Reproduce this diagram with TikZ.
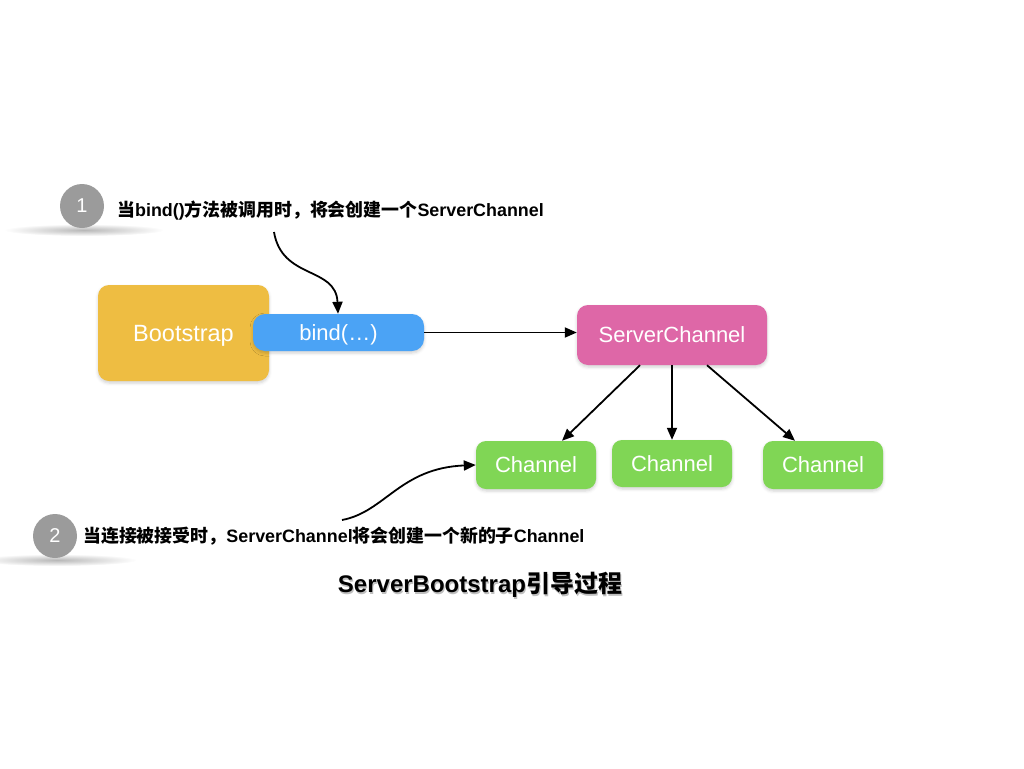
\documentclass[tikz,border=0pt]{standalone}
\usepackage{fontspec}
\setmainfont{Liberation Sans}
\newfontfamily\cjk{Noto Sans CJK SC}
\usetikzlibrary{arrows.meta,shadows.blur}
\definecolor{bootc}{HTML}{EEBD42}
\definecolor{bindc}{HTML}{4BA3F5}
\definecolor{srvc}{HTML}{DE67A7}
\definecolor{chc}{HTML}{80D655}
\definecolor{circc}{HTML}{9B9B9B}
\tikzset{
  box/.style={rounded corners=11pt, text=white, font=\fontsize{22}{24}\selectfont, inner sep=0pt,
    text height=15.8pt, text depth=0pt,
    blur shadow={shadow xshift=0pt, shadow yshift=-2pt, shadow blur radius=3pt, shadow opacity=18}},
  conn/.style={line width=1.8pt, -{Triangle[length=12pt,width=10pt]}},
  stepcirc/.style={circle, fill=circc, minimum size=44pt, inner sep=0pt, text=white, font=\fontsize{20}{22}\selectfont},
  note/.style={anchor=west, inner sep=0pt, font=\fontsize{17.9}{20}\selectfont\bfseries},
}
\begin{document}
\begin{tikzpicture}[x=1pt,y=-1pt]
\useasboundingbox (0,0) rectangle (1024,768);
% shadows below circles
\shade[inner color=black!28, outer color=white] (84,230) ellipse [x radius=80, y radius=6];
\shade[inner color=black!28, outer color=white] (57,560) ellipse [x radius=80, y radius=6];
\node[stepcirc] (c1) at (82,206) {1};
\node[stepcirc] (c2) at (55,536) {2};
\node[note] (t1) at (117,211) {{\cjk 当}bind(){\cjk 方法被调用时，将会创建一个}ServerChannel};
\node[note] (t2) at (83,536) {{\cjk 当连接被接受时，}ServerChannel{\cjk 将会创建一个新的子}Channel};
% boxes
\node[box, fill=bootc, minimum width=171pt, minimum height=96pt, font=\fontsize{23.5}{26}\selectfont, text height=16.9pt] (boot) at (183.5,333) {Bootstrap};
\node[box, fill=bindc, minimum width=171pt, minimum height=37pt, rounded corners=12pt] (bind) at (338.5,332.5) {bind(…)};
\node[box, fill=srvc, minimum width=190pt, minimum height=60pt] (srv) at (672,335) {ServerChannel};
\node[box, fill=chc, minimum width=120pt, minimum height=48pt, rounded corners=10pt] (ch1) at (536,465) {Channel};
\node[box, fill=chc, minimum width=120pt, minimum height=47pt, rounded corners=10pt] (ch2) at (672,463.5) {Channel};
\node[box, fill=chc, minimum width=120pt, minimum height=48pt, rounded corners=10pt] (ch3) at (823,465) {Channel};
% connectors
\coordinate (a1) at (274,232);
\coordinate (a2) at (342,520);
\draw[conn] (a1) .. controls (282,280) and (336,266) .. (bind.north -| 338,0);
\draw[conn] (a2) .. controls (385,512) and (400,468) .. (ch1.west);
\draw[conn] (bind.east) -- (srv.west |- bind.east);
\draw[conn] (srv.south -| 640,0) -- (ch1.north -| 562,0);
\draw[conn] (srv.south) -- (ch2.north);
\draw[conn] (srv.south -| 707,0) -- (ch3.north -| 795,0);
% title
\node[text=black!25, font=\fontsize{24}{28}\selectfont\bfseries] (titles) at (481,587) {ServerBootstrap{\cjk 引导过程}};
\node[font=\fontsize{24}{28}\selectfont\bfseries] (title) at (480,585) {ServerBootstrap{\cjk 引导过程}};
\end{tikzpicture}
\end{document}
